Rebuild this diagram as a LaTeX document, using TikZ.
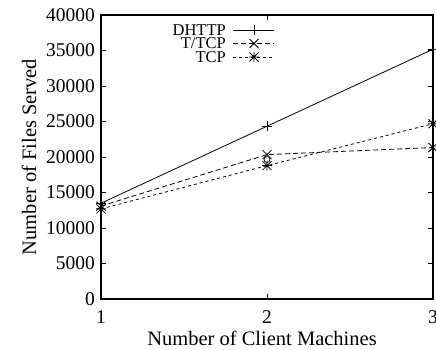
\documentclass[tikz,border=0pt]{standalone}
\usepackage{fontspec}
\setmainfont{Liberation Serif}
\begin{document}
\begin{tikzpicture}[x=1pt,y=1pt,
  lbl/.style={font=\fontsize{19.5}{22}\selectfont, inner sep=0pt},
  ttl/.style={font=\fontsize{20.5}{24}\selectfont, inner sep=0pt},
  lgd/.style={font=\fontsize{16.5}{18}\selectfont, inner sep=0pt},
  frame/.style={line width=1.1pt},
  tickline/.style={line width=0.9pt},
  dline/.style={line width=0.8pt},
  tline/.style={line width=0.8pt, dash pattern=on 5pt off 3pt},
  cline/.style={line width=0.8pt, dash pattern=on 3pt off 3pt},
  plusm/.pic={\draw[line width=0.8pt] (-5,0)--(5,0) (0,-5)--(0,5);},
  crossm/.pic={\draw[line width=0.8pt] (-4.5,-4.5)--(4.5,4.5) (-4.5,4.5)--(4.5,-4.5);},
  starm/.pic={\draw[line width=0.8pt] (-4.5,-4.5)--(4.5,4.5) (-4.5,4.5)--(4.5,-4.5) (-5,0)--(5,0) (0,-5)--(0,5);}
]
\useasboundingbox (0,0) rectangle (436,349);
% frame
\coordinate (fbl) at (101,50);
\coordinate (ftr) at (433,334);
\draw[frame] (fbl) rectangle (ftr);
% y ticks
\foreach \v [count=\i] in {0,5000,10000,15000,20000,25000,30000,35000,40000}{
  \pgfmathsetmacro{\yy}{50+(\i-1)*35.5}
  \node[lbl, anchor=east] (yl\i) at (95,\yy) {\v};
  \ifnum\i>1 \ifnum\i<9
    \draw[tickline] (101,\yy) -- (106,\yy);
    \draw[tickline] (433,\yy) -- (428,\yy);
  \fi\fi
}
% x ticks
\draw[tickline] (267,50) -- (267,55);
\draw[tickline] (267,334) -- (267,329);
\node[lbl, anchor=north] (xl1) at (101,39) {1};
\node[lbl, anchor=north] (xl2) at (267,39) {2};
\node[lbl, anchor=north] (xl3) at (433,39) {3};
% axis titles
\node[ttl] (xtitle) at (262,11) {Number of Client Machines};
\node[ttl, rotate=90] (ytitle) at (29,192) {Number of Files Served};
% data: y = 50 + v*0.0071
\begin{scope}[shift={(0pt,50pt)}, y=0.0071pt]
  \coordinate (d1) at (101,13500);
  \coordinate (d2) at (267,24350);
  \coordinate (d3) at (433,35200);
  \coordinate (t1) at (101,13100);
  \coordinate (t2) at (267,20350);
  \coordinate (t3) at (433,21350);
  \coordinate (c1) at (101,12700);
  \coordinate (c2) at (267,18800);
  \coordinate (c3) at (433,24700);
  \coordinate (o2) at (267,19650);
\end{scope}
\draw[dline] (d1) -- (d2) -- (d3);
\draw[tline] (t1) -- (t2) -- (t3);
\draw[cline] (c1) -- (c2) -- (c3);
\foreach \p in {d1,d2,d3} \pic at (\p) {plusm};
\foreach \p in {t1,t2,t3} \pic at (\p) {crossm};
\foreach \p in {c1,c2,c3} \pic at (\p) {starm};
\draw[line width=0.7pt] (o2) circle (3);
% legend
\node[lgd, anchor=east] (lg1) at (226,319) {DHTTP};
\node[lgd, anchor=east] (lg2) at (226,305.5) {T/TCP};
\node[lgd, anchor=east] (lg3) at (226,292) {TCP};
\coordinate (la1) at (233,319); \coordinate (lb1) at (274,319);
\coordinate (la2) at (233,305.5); \coordinate (lb2) at (274,305.5);
\coordinate (la3) at (233,292); \coordinate (lb3) at (274,292);
\draw[dline] (la1) -- (lb1);
\draw[tline] (la2) -- (lb2);
\draw[cline] (la3) -- (lb3);
\pic at (254,319) {plusm};
\pic at (254,305.5) {crossm};
\pic at (254,292) {starm};
\end{tikzpicture}
\end{document}
